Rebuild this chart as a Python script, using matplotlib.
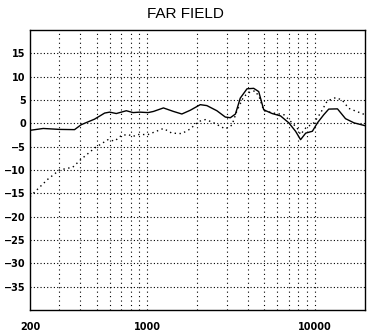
import matplotlib
matplotlib.use("Agg")
from matplotlib import pyplot as plt
from matplotlib.ticker import FixedLocator, NullFormatter, NullLocator
import numpy as np

# solid trace (Hz, dB)
solid_f = [200, 240, 300, 369, 404, 486, 558, 598, 655, 752, 825, 904, 1014,
           1092, 1252, 1437, 1613, 1810, 2077, 2275, 2610, 2930, 3140, 3370,
           3600, 3950, 4330, 4640, 4970, 5580, 6260, 7020, 7700, 8250, 8850,
           9700, 10400, 11350, 12150, 13700, 15300, 17200, 20000]
solid_db = [-1.5, -1.1, -1.3, -1.35, -0.3, 0.9, 2.2, 2.4, 2.1, 2.7, 2.3, 2.4, 2.3,
            2.55, 3.3, 2.55, 2.0, 2.8, 4.0, 3.8, 2.7, 1.35, 1.2, 2.0,
            5.4, 7.4, 7.5, 6.8, 2.9, 2.1, 1.6, 0.1, -1.7, -3.5, -2.1,
            -1.7, 0.1, 1.85, 3.05, 3.1, 1.0, 0.1, -0.5]

# dotted trace (Hz, dB)
dot_f = [200, 255, 300, 360, 404, 486, 584, 641, 702, 770, 825, 883, 1014,
         1252, 1405, 1613, 1810, 2030, 2225, 2440, 2930, 3210, 3440, 3770,
         4140, 4430, 4700, 4970, 5700, 6560, 7200, 7870, 8250, 8850, 9900,
         10850, 11900, 13350, 14600, 16000, 20000]
dot_db = [-15.7, -12.0, -10.0, -9.4, -7.7, -5.3, -3.5, -3.8, -2.6, -2.4, -2.8, -2.4, -2.4,
          -1.1, -2.1, -2.2, -1.2, 0.4, 0.8, 0.3, -1.2, -0.4, 2.7, 5.7,
          6.8, 6.95, 5.4, 2.7, 2.2, 1.85, 0.4, -1.0, -2.4, -1.0, 0.1,
          2.2, 4.8, 5.5, 5.0, 3.2, 1.85]

y_ticks = [-35, -30, -25, -20, -15, -10, -5, 0, 5, 10, 15]
x_labels = [200, 1000, 10000]
x_grid = [300, 400, 500, 600, 700, 800, 900, 1000,
          2000, 3000, 4000, 5000, 6000, 7000, 8000, 9000, 10000]

fig = plt.figure(figsize=(3.71, 3.33), dpi=100)
ax = fig.add_axes([30 / 371, 23 / 333, 335 / 371, 280 / 333])

ax.plot(solid_f, solid_db, color="black", lw=1.0)
ax.plot(dot_f, dot_db, color="black", lw=1.0, linestyle=(0, (1, 2.5)))

ax.set_xscale("log")
ax.set_xlim(200, 20000)
ax.set_ylim(-40, 20)

ax.xaxis.set_major_locator(FixedLocator(x_labels))
ax.xaxis.set_major_formatter(plt.FixedFormatter([str(v) for v in x_labels]))
ax.xaxis.set_minor_locator(NullLocator())
ax.xaxis.set_minor_formatter(NullFormatter())
ax.set_yticks(y_ticks)

for x in x_grid:
    ax.axvline(x, color="black", lw=0.8, linestyle=(0, (1, 3)), zorder=0)
for y in y_ticks:
    ax.axhline(y, color="black", lw=0.8, linestyle=(0, (1, 2)), zorder=0)

ax.tick_params(axis="both", length=0, labelsize=7)
ax.tick_params(axis="x", pad=9)
ax.tick_params(axis="y", pad=3)
for lab in ax.get_xticklabels() + ax.get_yticklabels():
    lab.set_fontweight("bold")

for s in ax.spines.values():
    s.set_color("black")
    s.set_linewidth(1.0)

fig.text(0.5, 1 - 14 / 333, "FAR FIELD", ha="center", va="center",
         fontsize=11, family="Liberation Sans")

fig.savefig("out.png", dpi=100)
